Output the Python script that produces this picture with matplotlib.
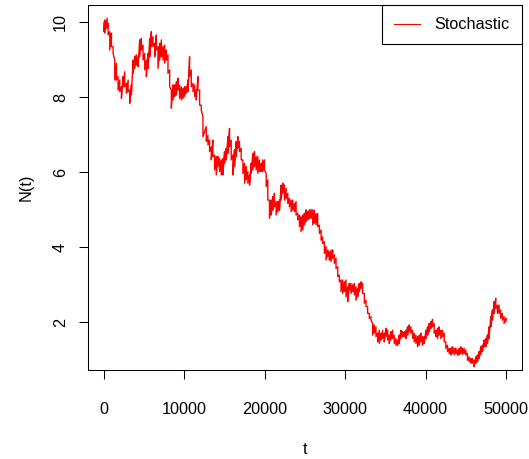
import numpy as np
import matplotlib
matplotlib.use("Agg")
from matplotlib import pyplot as plt

plt.rcParams['font.family'] = ['Liberation Sans', 'DejaVu Sans']

# time points, with the upper and lower edge of the noisy trace
t = [0, 90, 380, 500, 710, 920, 1120, 1330, 1540, 1740,
     1950, 2160, 2360, 2570, 2780, 2990, 3190, 3400, 3610, 3810,
     4020, 4230, 4430, 4640, 4850, 5060, 5260, 5470, 5680, 5880,
     6090, 6300, 6500, 6710, 6920, 7130, 7330, 7540, 7750, 7950,
     8160, 8370, 8570, 8780, 8990, 9200, 9400, 9610, 9820, 10020,
     10230, 10440, 10640, 10850, 11060, 11270, 11470, 11680, 11890, 12090,
     12300,
     12710, 12920, 13130, 13340, 13540, 13750, 13960, 14160, 14370, 14580,
     14780, 14990, 15200, 15410, 15610, 15820, 16030, 16230, 16440, 16650,
     16850, 17060, 17270, 17480, 17680, 17890, 18100, 18300, 18510, 18720,
     18920, 19130, 19340, 19550, 19750, 19960, 20170, 20370, 20580, 20790,
     20990, 21200, 21410, 21620, 21820, 22030, 22240, 22440, 22650, 22860,
     23060, 23270, 23480, 23690, 23890, 24100, 24310, 24510, 24720, 24930,
     25130, 25340, 25550, 25760, 25960,
     26170, 26380, 26580, 26790, 27000, 27200, 27410, 27620, 27830, 28030,
     28240, 28450, 28650, 28860, 29070, 29270, 29480, 29690, 29900, 30100,
     30310, 30520, 30720, 30930, 31140, 31340, 31550, 31760, 31970, 32170,
     32380, 32590, 32790, 33000, 33210,
     33410, 33620, 33830, 34040, 34240, 34450, 34660, 34860, 35070, 35280,
     35480, 35690, 35900, 36100, 36310, 36520, 36730, 36930, 37140, 37350,
     37550, 37760, 37970, 38180, 38380,
     38590, 38800, 39000, 39210, 39420, 39620, 39830, 40040, 40250, 40450,
     40660, 40870, 41070, 41280, 41490, 41690, 41900, 42110, 42320, 42520,
     42730, 42940, 43140, 43350, 43560, 43760, 43970, 44180, 44390, 44590,
     44800, 45010, 45210, 45420, 45630, 45830, 46040, 46250, 46460, 46660,
     46870, 47080, 47280, 47490, 47700, 47900, 48110, 48320, 48530, 48730,
     48940, 49150, 49350, 49560, 49770, 50000]

n_hi = [10.0, 10.06, 10.11, 9.97, 9.75, 9.71, 9.35, 8.99, 8.91, 8.55,
        8.46, 8.28, 8.55, 8.68, 8.37, 8.46, 8.19, 8.33, 8.99, 9.08,
        9.13, 9.08, 9.53, 9.57, 9.39, 9.17, 8.99, 9.17, 9.57, 9.75,
        9.62, 9.44, 9.66, 9.35, 9.44, 9.53, 9.35, 9.39, 9.26, 9.13,
        8.73, 8.19, 8.33, 8.33, 8.42, 8.51, 8.33, 8.28, 8.24, 8.28,
        8.28, 8.46, 9.08, 8.73, 8.37, 8.33, 8.19, 8.55, 8.19, 7.79,
        7.48,
        7.22, 6.99, 6.86, 6.68, 6.86, 6.46, 6.42, 6.42, 6.37, 6.33,
        6.37, 6.55, 6.64, 6.95, 7.17, 6.86, 6.46, 6.60, 6.82, 6.95,
        6.82, 6.64, 6.33, 6.24, 6.15, 6.02, 5.93, 6.24, 6.51, 6.55,
        6.42, 6.42, 6.33, 6.24, 6.33, 6.33, 5.97, 5.80, 5.26, 5.26,
        5.35, 5.44, 5.22, 5.22, 5.26, 5.66, 5.71, 5.66, 5.57, 5.44,
        5.31, 5.26, 5.26, 5.17, 5.22, 4.91, 4.86, 4.82, 4.86, 4.91,
        5.00, 4.95, 5.00, 5.01, 5.00,
        4.99, 4.90, 4.90, 4.59, 4.46, 4.28, 4.15, 4.02, 3.93, 3.88,
        3.93, 3.93, 3.80, 3.71, 3.48, 3.26, 3.13, 3.13, 3.08, 3.13,
        2.95, 3.04, 3.04, 3.00, 3.04, 2.95, 2.91, 3.04, 3.08, 3.04,
        2.77, 2.59, 2.42, 2.24, 2.15,
        1.97, 1.93, 1.88, 1.71, 1.79, 1.71, 1.79, 1.71, 1.84, 1.79,
        1.66, 1.75, 1.79, 1.66, 1.57, 1.53, 1.66, 1.79, 1.75, 1.75,
        1.79, 1.88, 1.93, 1.88, 1.79,
        1.71, 1.66, 1.62, 1.66, 1.71, 1.62, 1.62, 1.79, 1.88, 1.97,
        2.02, 2.08, 1.97, 1.79, 1.84, 1.88, 1.79, 1.79, 1.71, 1.48,
        1.39, 1.31, 1.31, 1.35, 1.31, 1.31, 1.26, 1.31, 1.35, 1.31,
        1.31, 1.26, 1.17, 1.08, 1.04, 1.04, 0.99, 1.08, 1.13, 1.22,
        1.35, 1.39, 1.53, 1.57, 1.66, 1.88, 2.15, 2.33, 2.55, 2.64,
        2.46, 2.46, 2.33, 2.24, 2.15, 2.11]

n_lo = [9.75, 9.71, 9.84, 9.66, 9.26, 9.35, 9.17, 8.46, 8.46, 8.19,
        8.15, 7.97, 8.28, 8.28, 8.11, 8.15, 7.84, 8.06, 8.64, 8.77,
        8.86, 8.82, 9.08, 9.26, 8.99, 8.73, 8.55, 8.77, 9.08, 9.35,
        9.35, 9.08, 9.26, 8.77, 8.99, 9.08, 8.99, 8.91, 8.99, 8.64,
        8.28, 7.71, 7.93, 8.02, 8.06, 8.19, 7.97, 7.93, 7.97, 8.02,
        8.11, 8.15, 8.55, 8.28, 8.15, 8.02, 7.93, 8.19, 7.79, 7.66,
        6.95,
        6.82, 6.73, 6.55, 6.33, 6.42, 6.06, 5.93, 6.15, 6.02, 5.93,
        5.93, 6.24, 6.33, 6.51, 6.68, 6.33, 5.93, 6.15, 6.42, 6.64,
        6.55, 6.33, 5.97, 5.71, 5.80, 5.71, 5.66, 5.97, 6.06, 6.15,
        6.06, 5.97, 6.02, 6.02, 6.02, 6.06, 5.62, 5.26, 4.77, 4.86,
        4.99, 5.08, 4.86, 4.95, 4.99, 5.26, 5.44, 5.26, 5.30, 5.17,
        5.08, 4.95, 4.99, 4.95, 4.86, 4.73, 4.55, 4.42, 4.46, 4.60,
        4.68, 4.73, 4.77, 4.77, 4.60,
        4.64, 4.60, 4.55, 4.37, 4.19, 4.10, 3.84, 3.66, 3.75, 3.66,
        3.62, 3.71, 3.57, 3.44, 3.22, 3.08, 2.82, 2.77, 2.82, 2.68,
        2.55, 2.86, 2.77, 2.82, 2.73, 2.59, 2.68, 2.82, 2.91, 2.77,
        2.51, 2.42, 2.24, 2.11, 2.06,
        1.66, 1.71, 1.62, 1.48, 1.44, 1.53, 1.57, 1.48, 1.62, 1.53,
        1.44, 1.53, 1.57, 1.44, 1.39, 1.39, 1.44, 1.57, 1.62, 1.62,
        1.57, 1.66, 1.75, 1.71, 1.57,
        1.48, 1.44, 1.35, 1.39, 1.48, 1.39, 1.44, 1.57, 1.66, 1.75,
        1.84, 1.88, 1.71, 1.62, 1.57, 1.66, 1.57, 1.62, 1.48, 1.31,
        1.22, 1.17, 1.13, 1.17, 1.13, 1.17, 1.13, 1.13, 1.17, 1.15,
        1.17, 1.13, 0.99, 0.95, 0.91, 0.91, 0.82, 0.91, 0.95, 1.04,
        1.13, 1.22, 1.35, 1.35, 1.44, 1.57, 1.88, 2.06, 2.24, 2.37,
        2.24, 2.24, 2.11, 2.06, 1.97, 2.02]

x_ticks = [0, 10000, 20000, 30000, 40000, 50000]
y_ticks = [2, 4, 6, 8, 10]

# zigzag between upper and lower edge so the trace looks like the dense noisy path
xs = np.repeat(np.array(t, dtype=float), 2)
ys = np.column_stack([n_hi, n_lo]).ravel()

fig = plt.figure(figsize=(5.29, 4.59), dpi=100)
ax = fig.add_axes([88 / 529, 89 / 459, 434 / 529, 365 / 459])

ax.plot(xs, ys, color="red", lw=1.0, label="Stochastic")

ax.set_xlim(-2000, 52000)
ax.set_ylim(0.73, 10.46)
ax.set_xticks(x_ticks)
ax.set_xticklabels([str(v) for v in x_ticks])
ax.set_yticks(y_ticks)
ax.set_yticklabels([str(v) for v in y_ticks], rotation=90, va="center")
ax.tick_params(direction="out", length=6.5, width=0.75, labelsize=11.7)
ax.tick_params(axis="x", pad=16.5)
ax.tick_params(axis="y", pad=8)
for s in ax.spines.values():
    s.set_linewidth(0.75)
    s.set_color("black")

ax.set_xlabel("t", fontsize=11.7, labelpad=18)
ax.set_ylabel("N(t)", fontsize=11.7, labelpad=14)

leg = ax.legend(loc="upper right", borderaxespad=0, fancybox=False,
                edgecolor="black", framealpha=1, fontsize=11.7,
                handlelength=1.6, handletextpad=0.9, borderpad=0.75)
leg.get_frame().set_linewidth(0.8)
leg.get_lines()[0].set_linewidth(0.8)

fig.savefig("out.png", dpi=100)
